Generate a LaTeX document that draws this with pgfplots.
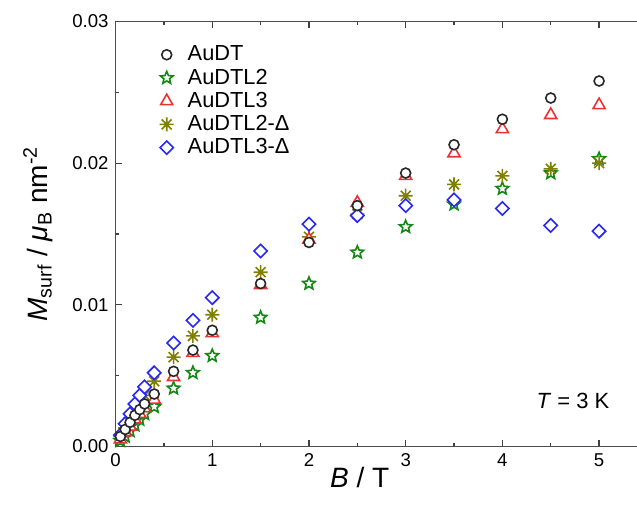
\documentclass[border=0pt]{standalone}
\usepackage{pgfplots}
\pgfplotsset{compat=1.18}
\usepackage{fontspec}
\setmainfont{Liberation Sans}

\definecolor{cblack}{RGB}{40,40,40}
\definecolor{cgreen}{RGB}{20,135,20}
\definecolor{cred}{RGB}{235,50,50}
\definecolor{colive}{RGB}{128,128,0}
\definecolor{cblue}{RGB}{40,40,240}

\newcommand\legtxt[1]{\smash{#1}\vphantom{AuDTL3}}

\pgfdeclareplotmark{ostar}{%
  \pgfpathmoveto{\pgfpointpolar{90}{\pgfplotmarksize}}%
  \pgfpathlineto{\pgfpointpolar{126}{0.45\pgfplotmarksize}}%
  \pgfpathlineto{\pgfpointpolar{162}{\pgfplotmarksize}}%
  \pgfpathlineto{\pgfpointpolar{198}{0.45\pgfplotmarksize}}%
  \pgfpathlineto{\pgfpointpolar{234}{\pgfplotmarksize}}%
  \pgfpathlineto{\pgfpointpolar{270}{0.45\pgfplotmarksize}}%
  \pgfpathlineto{\pgfpointpolar{306}{\pgfplotmarksize}}%
  \pgfpathlineto{\pgfpointpolar{342}{0.45\pgfplotmarksize}}%
  \pgfpathlineto{\pgfpointpolar{18}{\pgfplotmarksize}}%
  \pgfpathlineto{\pgfpointpolar{54}{0.45\pgfplotmarksize}}%
  \pgfpathclose
  \pgfusepathqfillstroke}
\pgfdeclareplotmark{ast8}{%
  \pgfpathmoveto{\pgfpointpolar{0}{\pgfplotmarksize}}\pgfpathlineto{\pgfpointpolar{180}{\pgfplotmarksize}}%
  \pgfpathmoveto{\pgfpointpolar{45}{\pgfplotmarksize}}\pgfpathlineto{\pgfpointpolar{225}{\pgfplotmarksize}}%
  \pgfpathmoveto{\pgfpointpolar{90}{\pgfplotmarksize}}\pgfpathlineto{\pgfpointpolar{270}{\pgfplotmarksize}}%
  \pgfpathmoveto{\pgfpointpolar{135}{\pgfplotmarksize}}\pgfpathlineto{\pgfpointpolar{315}{\pgfplotmarksize}}%
  \pgfusepathqstroke}

\pgfplotsset{
  sAuDT/.style={only marks, mark=*, mark size=2.5pt, mark options={draw=cblack, fill=white, line width=0.8pt}},
  sL2/.style={only marks, mark=ostar, mark size=3.3pt, mark options={draw=cgreen, fill=white, line width=0.8pt}},
  sL3/.style={only marks, mark=triangle*, mark size=3.5pt, mark options={draw=cred, fill=white, line width=0.8pt}},
  sL2D/.style={only marks, mark=ast8, mark size=3.5pt, mark options={draw=colive, line width=0.8pt}},
  sL3D/.style={only marks, mark=square*, mark size=2.35pt, mark options={draw=cblue, fill=white, line width=0.8pt, rotate=45}},
}

\begin{document}
\begin{tikzpicture}
\begin{axis}[
  scale only axis, width=266pt, height=212.5pt,
  xmin=0, xmax=5.5, ymin=0, ymax=0.03,
  xtick={0,1,2,3,4,5}, ytick={0,0.01,0.02,0.03},
  minor x tick num=1, minor y tick num=1,
  tick align=inside, major tick length=3pt, minor tick length=1.8pt,
  tick style={line width=0.6pt, color=black!75},
  axis line style={line width=0.8pt, color=black!70},
  scaled y ticks=false,
  yticklabel style={/pgf/number format/.cd, fixed, fixed zerofill, precision=2, assume math mode=true},
  xticklabel style={/pgf/number format/assume math mode=true},
  ticklabel style={font=\fontsize{9.3}{11}\selectfont},
  xlabel={\textit{B} / T},
  ylabel={\textit{M}\textsubscript{surf} / \textit{μ}\textsubscript{B} nm\textsuperscript{-2}},
  every axis x label/.style={at={(axis description cs:0.459,-0.074)}, anchor=center},
  every axis y label/.style={at={(axis description cs:-0.146,0.5)}, rotate=90, anchor=center},
  label style={font=\fontsize{14}{16}\selectfont},
  legend style={draw=none, fill=none, at={(axis description cs:0.071,0.963)}, anchor=north west,
    font=\fontsize{10.9}{12}\selectfont, row sep=-1.5pt,
    /tikz/every odd column/.append style={column sep=5pt}},
  legend cell align=left,
  clip=false,
]
\addlegendimage{sAuDT}
\addlegendentry{\legtxt{AuDT}}
\addlegendimage{sL2}
\addlegendentry{\legtxt{AuDTL2}}
\addlegendimage{sL3}
\addlegendentry{\legtxt{AuDTL3}}
\addlegendimage{sL2D}
\addlegendentry{\legtxt{AuDTL2-Δ}}
\addlegendimage{sL3D}
\addlegendentry{\legtxt{AuDTL3-Δ}}

% AuDTL2 (stars)
\addplot[sL2, forget plot] coordinates {
(0.05,0.0004) (0.1,0.0007) (0.15,0.0011) (0.2,0.0015) (0.25,0.0019) (0.3,0.0023)
(0.4,0.0028) (0.6,0.0041) (0.8,0.0052) (1,0.0064) (1.5,0.0091) (2,0.0115)
(2.5,0.0137) (3,0.0155) (3.5,0.0171) (4,0.0182) (4.5,0.0193) (5,0.0203)};
% AuDTL2-Delta (asterisks)
\addplot[sL2D, forget plot] coordinates {
(0.05,0.0007) (0.1,0.0013) (0.15,0.0020) (0.2,0.0026) (0.25,0.0031) (0.3,0.0036)
(0.4,0.0046) (0.6,0.0063) (0.8,0.0078) (1,0.0093) (1.5,0.0123) (2,0.0148)
(2.5,0.0164) (3,0.0177) (3.5,0.0185) (4,0.0191) (4.5,0.0196) (5,0.0200)};
% AuDTL3-Delta (diamonds)
\addplot[sL3D, forget plot] coordinates {
(0.05,0.0008) (0.1,0.0016) (0.15,0.0023) (0.2,0.0030) (0.25,0.0036) (0.3,0.0042)
(0.4,0.0052) (0.6,0.0073) (0.8,0.0089) (1,0.0105) (1.5,0.0138) (2,0.0157)
(2.5,0.0163) (3,0.0170) (3.5,0.0174) (4,0.0168) (4.5,0.0156) (5,0.0152)};
% AuDTL3 (triangles)
\addplot[sL3, forget plot] coordinates {
(0.05,0.0005) (0.1,0.0010) (0.15,0.0014) (0.2,0.0019) (0.25,0.0023) (0.3,0.0027)
(0.4,0.0033) (0.6,0.0049) (0.8,0.0066) (1,0.0080) (1.5,0.0114) (2,0.0146)
(2.5,0.0172) (3,0.0191) (3.5,0.0207) (4,0.0224) (4.5,0.0234) (5,0.0241)};
% AuDT (circles)
\addplot[sAuDT, forget plot] coordinates {
(0.05,0.0007) (0.1,0.0012) (0.15,0.0017) (0.2,0.0022) (0.25,0.0026) (0.3,0.0030)
(0.4,0.0037) (0.6,0.0053) (0.8,0.0068) (1,0.0082) (1.5,0.0115) (2,0.0144)
(2.5,0.0170) (3,0.0193) (3.5,0.0213) (4,0.0231) (4.5,0.0246) (5,0.0258)};

\node[font=\fontsize{11}{13}\selectfont] at (axis cs:4.73,0.00318) {\textit{T} = 3 K};

\coordinate (bbTL) at (axis cs:-1.195,0.03152);
\coordinate (bbBR) at (axis cs:5.392,-0.00461);
\end{axis}
\pgfresetboundingbox
\useasboundingbox (bbTL) rectangle (bbBR);
\end{tikzpicture}
\end{document}
